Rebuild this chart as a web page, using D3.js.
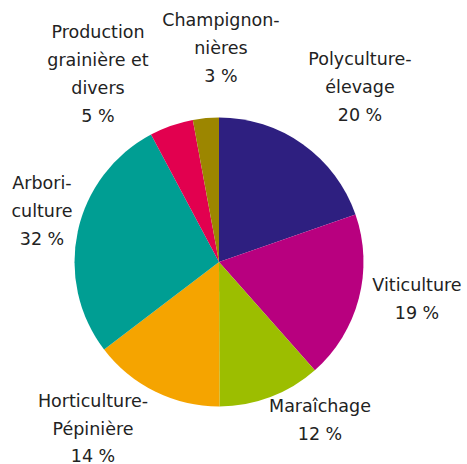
<!DOCTYPE html>
<html>
<head>
<meta charset="utf-8">
<script src="https://cdn.jsdelivr.net/npm/d3@7"></script>
<style>
  html, body { margin: 0; padding: 0; background: #fff; }
</style>
</head>
<body>
<div id="chart"></div>
<script>
// slices clockwise from 12 o'clock
const categories = [
  "Polyculture-élevage", "Viticulture", "Maraîchage", "Horticulture-Pépinière",
  "Arboriculture", "Production grainière et divers", "Champignonnières"
];
// slice sizes as drawn in the picture
const shares = [19.7, 18.8, 11.5, 14.7, 27.6, 4.9, 2.9];
// percentages printed in the labels
const percentLabels = ["20 %", "19 %", "12 %", "14 %", "32 %", "5 %", "3 %"];
// label lines
const labelLines = [
  ["Polyculture-", "élevage"],
  ["Viticulture"],
  ["Maraîchage"],
  ["Horticulture-", "Pépinière"],
  ["Arbori-", "culture"],
  ["Production", "grainière et", "divers"],
  ["Champignon-", "nières"]
];
const colors = ["#2e1f80", "#b8007f", "#9cbe00", "#f5a400", "#009e93", "#e2004f", "#9c8600"];

const width = 467, height = 464;
const cx = 219, cy = 262, radius = 144.5;
const fontFamily = "'DejaVu Sans', sans-serif";
const fontSize = 17.5;
const lineHeight = 28;

// label anchor (center x, first baseline y)
const labelPos = [
  [360, 65], [417, 291], [320, 412], [93, 407], [42, 189], [98, 38], [221, 26]
];

const svg = d3.select("#chart").append("svg")
  .attr("width", width)
  .attr("height", height);

const pie = d3.pie().sort(null).value(d => d);
const arc = d3.arc().innerRadius(0).outerRadius(radius);

const g = svg.append("g").attr("transform", `translate(${cx},${cy})`);

g.selectAll("path")
  .data(pie(shares))
  .join("path")
  .attr("d", arc)
  .attr("fill", (d, i) => colors[i]);

const labels = svg.append("g")
  .attr("font-family", fontFamily)
  .attr("font-size", fontSize)
  .attr("fill", "#222")
  .attr("text-anchor", "middle");

categories.forEach((c, i) => {
  const lines = labelLines[i].concat([percentLabels[i]]);
  const t = labels.append("text")
    .attr("x", labelPos[i][0])
    .attr("y", labelPos[i][1]);
  lines.forEach((l, j) => {
    t.append("tspan")
      .attr("x", labelPos[i][0])
      .attr("dy", j === 0 ? 0 : (i === 3 ? 27.5 : lineHeight))
      .text(l);
  });
});
</script>
</body>
</html>
